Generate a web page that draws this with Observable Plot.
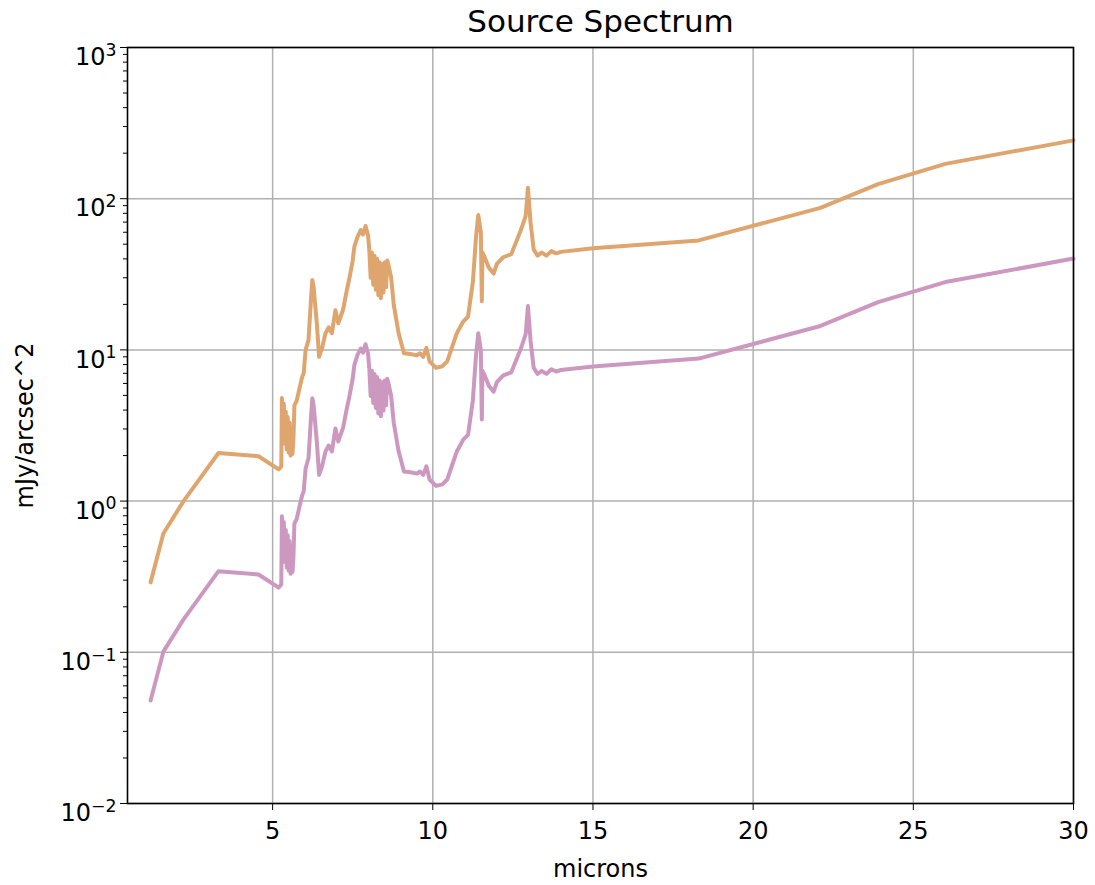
<!DOCTYPE html>
<html><head><meta charset="utf-8">
<script src="https://cdn.jsdelivr.net/npm/d3@7"></script>
<script src="https://cdn.jsdelivr.net/npm/@observablehq/plot@0.6"></script>
<style>html,body{margin:0;padding:0;background:#fff;overflow:hidden}#chart svg{display:block}</style>
</head><body><div id="chart"></div>
<script>
const wavelengths = [
  1.19, 1.59, 2.22, 3.31, 4.56, 5.19, 5.27, 5.29, 5.32, 5.35,
  5.38, 5.41, 5.44, 5.47, 5.50, 5.53, 5.56, 5.59, 5.62, 5.65,
  5.68, 5.75, 5.85, 5.92, 5.97, 6.03, 6.12, 6.20, 6.24, 6.28,
  6.38, 6.45, 6.55, 6.65, 6.75, 6.85, 6.96, 7.05, 7.20, 7.30,
  7.40, 7.50, 7.55, 7.65, 7.75, 7.82, 7.90, 7.98, 8.02, 8.06,
  8.10, 8.14, 8.18, 8.22, 8.26, 8.30, 8.34, 8.38, 8.42, 8.46,
  8.50, 8.54, 8.58, 8.62, 8.70, 8.78, 8.93, 9.10, 9.30, 9.50,
  9.60, 9.70, 9.80, 9.90, 10.10, 10.30, 10.45, 10.60, 10.75, 10.95,
  11.10, 11.25, 11.35, 11.42, 11.50, 11.53, 11.55, 11.60, 11.75, 11.90,
  12.00, 12.20, 12.45, 12.75, 12.90, 12.97, 13.05, 13.15, 13.27, 13.40,
  13.55, 13.70, 13.85, 14.00, 15.00, 18.30, 22.10, 23.90, 26.00, 30.00
];
const fluxUpper = [
  0.29, 0.61, 1.0, 2.08, 1.98, 1.62, 1.7, 4.8, 3.0, 4.4,
  2.4, 3.9, 2.2, 3.6, 2.1, 3.3, 2.0, 3.0, 2.05, 2.6,
  4.3, 4.6, 5.7, 6.6, 7.0, 10.0, 11.6, 22, 29, 26,
  15, 9.0, 10.4, 12.9, 14.1, 12.9, 18.3, 15.0, 18.5, 23.8,
  30, 39, 48, 56, 62, 58, 66, 57, 45, 30,
  44, 27, 42, 25, 40, 23, 38, 22, 37, 24,
  38, 26, 39, 36, 30, 20, 13, 9.5, 9.4, 9.2,
  9.5, 9.0, 10.3, 8.4, 7.6, 7.8, 8.4, 10.4, 12.9, 15.4,
  16.6, 28, 56, 78, 60, 21, 44, 42, 35, 32,
  37, 41, 43, 62, 77, 118, 70, 46, 42, 44,
  42, 45, 43.5, 44.5, 47, 53, 87, 125, 170, 243
];
const fluxLower = [
  0.048, 0.101, 0.165, 0.344, 0.327, 0.268, 0.281, 0.793, 0.496, 0.727,
  0.397, 0.645, 0.364, 0.595, 0.347, 0.545, 0.331, 0.496, 0.339, 0.430,
  0.711, 0.760, 0.942, 1.09, 1.16, 1.65, 1.92, 3.64, 4.79, 4.30,
  2.48, 1.49, 1.72, 2.13, 2.33, 2.13, 3.02, 2.48, 3.06, 3.93,
  4.96, 6.45, 7.93, 9.26, 10.2, 9.59, 10.9, 9.42, 7.44, 4.96,
  7.27, 4.46, 6.94, 4.13, 6.61, 3.80, 6.28, 3.64, 6.12, 3.97,
  6.28, 4.30, 6.45, 5.95, 4.96, 3.31, 2.15, 1.57, 1.55, 1.52,
  1.57, 1.49, 1.70, 1.39, 1.26, 1.29, 1.39, 1.72, 2.13, 2.55,
  2.74, 4.63, 9.26, 12.9, 9.92, 3.47, 7.27, 6.94, 5.79, 5.29,
  6.12, 6.78, 7.11, 10.2, 12.7, 19.5, 11.6, 7.60, 6.94, 7.27,
  6.94, 7.44, 7.19, 7.36, 7.77, 8.76, 14.4, 20.7, 28.1, 40.2
];
const xTicks = [5, 10, 15, 20, 25, 30];
const yTicks = [1e-2, 1e-1, 1, 10, 100, 1000];
const yTickExponents = ["\u22122", "\u22121", "0", "1", "2", "3"];
const seriesNames = ["upper", "lower"];
const seriesColors = ["#dfa56e", "#cc98c0"];

const rows = [];
wavelengths.forEach((w, i) => {
  rows.push({w, f: fluxUpper[i], s: seriesNames[0]});
});
wavelengths.forEach((w, i) => {
  rows.push({w, f: fluxLower[i], s: seriesNames[1]});
});
const minorTicks = [];
for (let k = -2; k < 3; k++) for (let m = 2; m <= 9; m++) minorTicks.push(m * Math.pow(10, k));

const font = "DejaVu Sans";
const svg = Plot.plot({
  width: 1095, height: 885,
  marginLeft: 127, marginRight: 22, marginTop: 47, marginBottom: 82,
  style: {fontFamily: font, fontSize: "24px", color: "#000", background: "#fff"},
  x: {domain: [0.47, 30]},
  y: {type: "log", domain: [0.01, 1000]},
  color: {domain: seriesNames, range: seriesColors},
  marks: [
    Plot.gridX(xTicks, {stroke: "#b0b0b0", strokeOpacity: 1, strokeWidth: 1.5}),
    Plot.gridY(yTicks, {stroke: "#b0b0b0", strokeOpacity: 1, strokeWidth: 1.5}),
    Plot.line(rows, {x: "w", y: "f", z: "s", stroke: "s", strokeWidth: 4, strokeLinejoin: "round"}),
    Plot.frame({stroke: "#000", strokeWidth: 1.6}),
    Plot.axisX(xTicks, {tickSize: 7, tickPadding: 11, label: null, fontSize: 24}),
    Plot.axisY(yTicks, {tickSize: 7, tickPadding: 4, label: null, fontSize: 24,
      tickFormat: (d) => "10^" + yTickExponents[yTicks.indexOf(d)]}),
    Plot.axisY(minorTicks, {tickSize: 4, label: null, tickFormat: () => ""}),
    Plot.text(["Source Spectrum"], {frameAnchor: "top", lineAnchor: "middle", textAnchor: "middle", dy: -25, fontSize: 31, fill: "#000"}),
    Plot.text(["microns"], {frameAnchor: "bottom", lineAnchor: "middle", textAnchor: "middle", dy: 66, fontSize: 24, fill: "#000"}),
    Plot.text(["mJy/arcsec^2"], {frameAnchor: "left", lineAnchor: "middle", textAnchor: "middle", dx: -102, rotate: -90, fontSize: 24, fill: "#000"})
  ]
});
document.getElementById("chart").appendChild(svg);

d3.select(svg).selectAll('g[aria-label="y-axis tick label"] text').each(function() {
  const t = this.textContent;
  if (!t.includes("^")) return;
  const [b, e] = t.split("^");
  const sel = d3.select(this);
  sel.text(null);
  sel.attr("dy", "0.42em");
  sel.append("tspan").text(b);
  sel.append("tspan").attr("dy", "-0.55em").attr("font-size", "0.72em").text(e);
});
</script>
</body></html>
